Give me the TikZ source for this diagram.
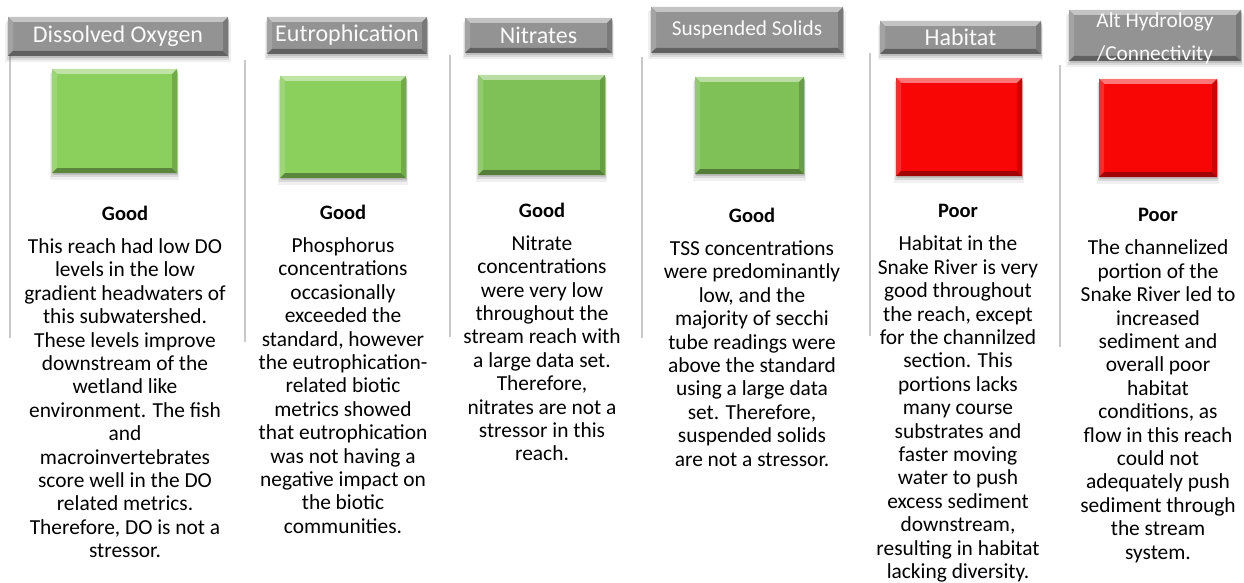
\documentclass[tikz,border=0pt]{standalone}
\usepackage{fontspec}
\setmainfont{Carlito}
\usetikzlibrary{positioning,shadows}

\definecolor{hdrgray}{HTML}{939393}
\definecolor{goodgreen}{HTML}{8BCF5D}
\definecolor{goodgreenB}{HTML}{7FC156}
\definecolor{poorred}{HTML}{F80606}
\definecolor{sepgray}{HTML}{C8C8C8}

\tikzset{
  bevel/.style 2 args={path picture={
    \def\pb{path picture bounding box}
    \fill[#1!55!white] (\pb.north west) -- (\pb.north east) -- ([xshift=-#2,yshift=-#2]\pb.north east) -- ([xshift=#2,yshift=-#2]\pb.north west) -- cycle;
    \fill[#1!85!white] (\pb.north west) -- ([xshift=#2,yshift=-#2]\pb.north west) -- ([xshift=#2,yshift=#2]\pb.south west) -- (\pb.south west) -- cycle;
    \fill[#1!65!black] (\pb.south west) -- ([xshift=#2,yshift=#2]\pb.south west) -- ([xshift=-#2,yshift=#2]\pb.south east) -- (\pb.south east) -- cycle;
    \fill[#1!82!black] (\pb.north east) -- (\pb.south east) -- ([xshift=-#2,yshift=#2]\pb.south east) -- ([xshift=-#2,yshift=-#2]\pb.north east) -- cycle;
  }},
  softshadow/.style={
    drop shadow={shadow xshift=0pt, shadow yshift=-5pt, opacity=0.12, shadow scale=1.03},
    drop shadow={shadow xshift=0pt, shadow yshift=-3.5pt, opacity=0.2, shadow scale=1.01},
    drop shadow={shadow xshift=0.5pt, shadow yshift=-2pt, opacity=0.3}},
}

\begin{document}
\begin{tikzpicture}[x=1pt,y=-1pt,
  hdr/.style={rectangle, inner sep=0pt, fill=hdrgray, bevel={hdrgray}{5pt}, softshadow,
    text=white!96!gray, align=center, font=\fontsize{24}{26}\selectfont},
  hdrtext/.style={inner sep=0pt, text=white!96!gray, align=center, font=\fontsize{21.3}{33}\selectfont},
  lamp/.style={rectangle, inner sep=0pt, fill=#1, bevel={#1}{5pt}, softshadow},
  rating/.style={inner sep=0pt, font=\fontsize{20.5}{24}\selectfont\bfseries},
  body/.style={inner sep=0pt, align=center, font=\fontsize{21.4}{23.4}\selectfont},
  sep/.style={draw=sepgray, line width=1.3pt}]
  \useasboundingbox (0,0) rectangle (1244,583);
  % column rules
  \draw[sep] (10,56) -- (10,338);
  \draw[sep] (245,60) -- (245,342);
  \draw[sep] (450,55) -- (450,337);
  \draw[sep] (642,57) -- (642,338);
  \draw[sep] (870,53) -- (870,336);
  \draw[sep] (1060,65) -- (1060,347);
  % headers
  \node[hdr, minimum width=220, minimum height=39] (h1) at (118,36.5) {Dissolved Oxygen};
  \node[hdr, minimum width=160, minimum height=37] (h2) at (347,35.5) {Eutrophication};
  \node[hdr, minimum width=147, minimum height=35] (h3) at (538.5,35.5) {Nitrates};
  \node[hdr, minimum width=192, minimum height=46, font=\fontsize{21.3}{24}\selectfont] (h4) at (747,30) {Suspended Solids};
  \node[hdr, minimum width=161, minimum height=33] (h5) at (960.5,37.5) {Habitat};
  \node[hdr, minimum width=172, minimum height=51] (h6) at (1155,35.5) {};
  \node[hdrtext] (h6t) at (1155,38.5) {Alt Hydrology\\/Connectivity};
  % status squares
  \node[lamp=goodgreen, minimum width=125, minimum height=104] (s1) at (114.5,121) {};
  \node[lamp=goodgreen, minimum width=126, minimum height=102] (s2) at (343,127) {};
  \node[lamp=goodgreenB, minimum width=127, minimum height=100] (s3) at (541.5,125) {};
  \node[lamp=goodgreenB, minimum width=109, minimum height=97] (s4) at (749.5,125.5) {};
  \node[lamp=poorred, minimum width=126, minimum height=98] (s5) at (959,127) {};
  \node[lamp=poorred, minimum width=118, minimum height=98] (s6) at (1158,128) {};
  % ratings
  \node[rating] (r1) at (125,213) {Good};
  \node[rating] (r2) at (343,212) {Good};
  \node[rating] (r3) at (542,210) {Good};
  \node[rating] (r4) at (752,215) {Good};
  \node[rating] (r5) at (958,211) {Poor};
  \node[rating] (r6) at (1158,215) {Poor};
  % notes
  \node[body, below=18pt of r1] (t1) {This reach had low DO\\levels in the low\\gradient headwaters of\\this subwatershed.\\These levels improve\\downstream of the\\wetland like\\environment. The fish\\and\\macroinvertebrates\\score well in the DO\\related metrics.\\Therefore, DO is not a\\stressor.};
  \node[body, below=18pt of r2] (t2) {Phosphorus\\concentrations\\occasionally\\exceeded the\\standard, however\\the eutrophication-\\related biotic\\metrics showed\\that eutrophication\\was not having a\\negative impact on\\the biotic\\communities.};
  \node[body, below=18pt of r3] (t3) {Nitrate\\concentrations\\were very low\\throughout the\\stream reach with\\a large data set.\\Therefore,\\nitrates are not a\\stressor in this\\reach.};
  \node[body, below=18pt of r4] (t4) {TSS concentrations\\were predominantly\\low, and the\\majority of secchi\\tube readings were\\above the standard\\using a large data\\set. Therefore,\\suspended solids\\are not a stressor.};
  \node[body, below=18pt of r5] (t5) {Habitat in the\\Snake River is very\\good throughout\\the reach, except\\for the channilzed\\section. This\\portions lacks\\many course\\substrates and\\faster moving\\water to push\\excess sediment\\downstream,\\resulting in habitat\\lacking diversity.};
  \node[body, below=18pt of r6] (t6) {The channelized\\portion of the\\Snake River led to\\increased\\sediment and\\overall poor\\habitat\\conditions, as\\flow in this reach\\could not\\adequately push\\sediment through\\the stream\\system.};
\end{tikzpicture}
\end{document}
